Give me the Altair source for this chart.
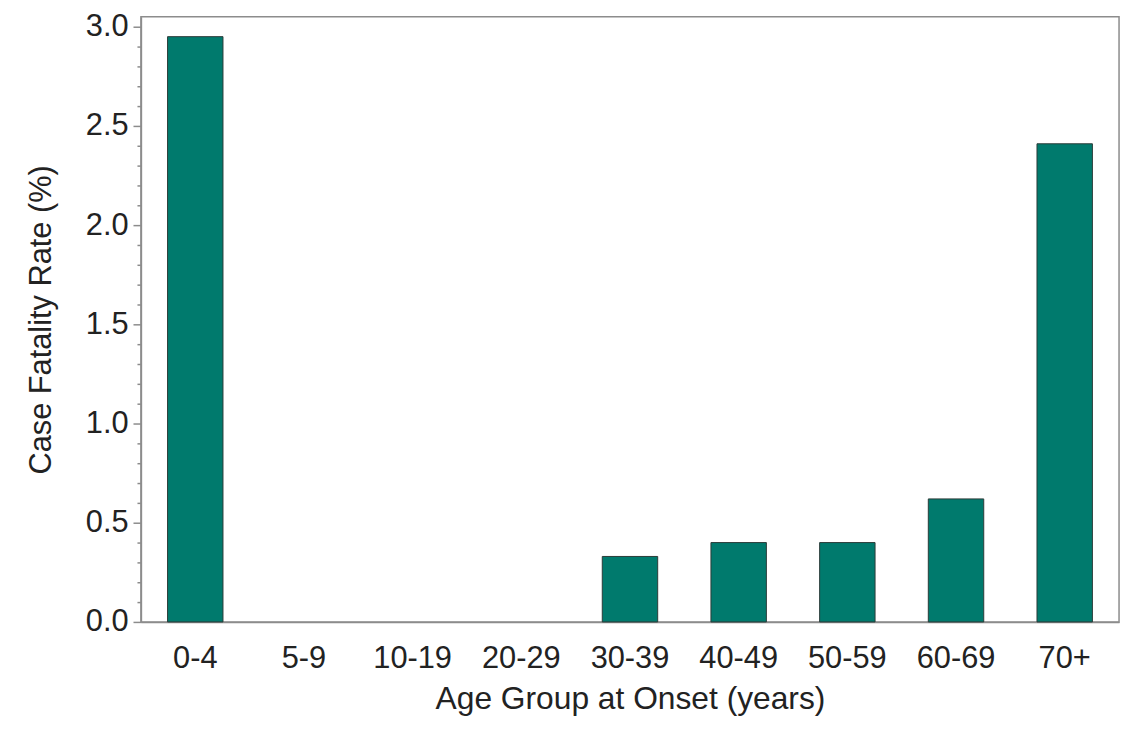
import altair as alt
import pandas as pd

age_groups = ["0-4", "5-9", "10-19", "20-29", "30-39", "40-49", "50-59", "60-69", "70+"]
cfr = [2.95, 0.0, 0.0, 0.0, 0.33, 0.40, 0.40, 0.62, 2.41]
y_tick_values = [0.0, 0.1, 0.2, 0.3, 0.4, 0.5, 0.6, 0.7, 0.8, 0.9,
                 1.0, 1.1, 1.2, 1.3, 1.4, 1.5, 1.6, 1.7, 1.8, 1.9,
                 2.0, 2.1, 2.2, 2.3, 2.4, 2.5, 2.6, 2.7, 2.8, 2.9, 3.0]

df = pd.DataFrame({"age": age_groups, "cfr": cfr})

FONT = "Liberation Sans"
major = "abs(datum.value*2 - round(datum.value*2)) < 0.001"

bars = alt.Chart(df).mark_bar(
    color="#007A6D", stroke="#2b3b38"
).encode(
    x=alt.X("age:N", sort=age_groups,
            scale=alt.Scale(paddingInner=0.49, paddingOuter=0.245),
            axis=alt.Axis(title="Age Group at Onset (years)", labelAngle=0,
                          ticks=False, labelPadding=22, titlePadding=10,
                          titleFontSize=32,
                          domainColor="#8c8c8c", domainWidth=1.5)),
    y=alt.Y("cfr:Q", scale=alt.Scale(domain=[0, 3.05], nice=False, zero=True),
            axis=alt.Axis(title="Case Fatality Rate (%)", values=y_tick_values,
                          labelExpr=f"({major}) ? format(datum.value, '.1f') : ''",
                          tickSize=alt.ConditionalAxisNumber(
                              condition={"test": major, "value": 8}, value=4),
                          tickColor="#8c8c8c", tickWidth=1.5,
                          labelPadding=5, titlePadding=28,
                          domainColor="#8c8c8c", domainWidth=1.5, grid=False)),
    strokeWidth=alt.condition(alt.datum.cfr > 0, alt.value(1), alt.value(0)),
)

chart = bars.properties(
    width=986, height=610,
    padding={"left": 17, "top": -1, "right": 5, "bottom": 5},
).configure_view(
    stroke="#8c8c8c", strokeWidth=1.5
).configure_axis(
    labelFont=FONT, titleFont=FONT, labelFontSize=31, titleFontSize=31,
    labelColor="#222222", titleColor="#222222", titleFontWeight="normal",
    grid=False
)

chart.save("out.html", embed_options={"renderer": "svg", "actions": False})
